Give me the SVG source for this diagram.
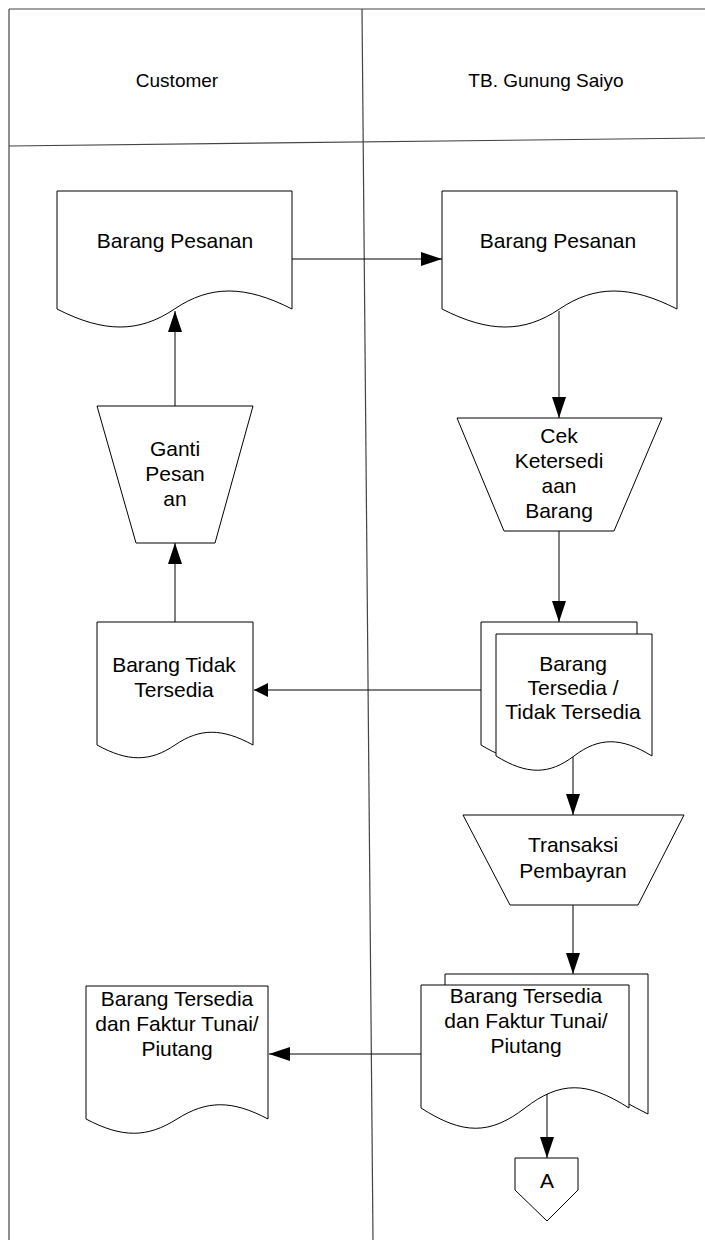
<svg xmlns="http://www.w3.org/2000/svg" width="705" height="1240" viewBox="0 0 705 1240">
  <style>
    .frame { fill: none; stroke: #444; stroke-width: 1.2; }
    .shape { fill: #fff; stroke: #000; stroke-width: 1; }
    .conn { fill: none; stroke: #000; stroke-width: 1; }
    text { font-family: "Liberation Sans", Arial, sans-serif; font-size: 21px; fill: #000; text-anchor: middle; }
    .head { font-size: 19px; }
  </style>
  <defs>
    <marker id="arrow" markerUnits="userSpaceOnUse" markerWidth="22" markerHeight="14" refX="21" refY="7" orient="auto">
      <path d="M0,0 L21,7 L0,14 Z" fill="#000"/>
    </marker>
    <marker id="arrowShort" markerUnits="userSpaceOnUse" markerWidth="15" markerHeight="14" refX="14" refY="7" orient="auto">
      <path d="M0,0 L14,7 L0,14 Z" fill="#000"/>
    </marker>
  </defs>

  <!-- swimlane frame -->
  <g id="lanes">
    <line class="frame" x1="9" y1="9" x2="705" y2="9"/>
    <line class="frame" x1="9" y1="9" x2="9" y2="1240"/>
    <line class="frame" x1="362" y1="9" x2="373" y2="1240"/>
    <line class="frame" x1="9" y1="146" x2="705" y2="138"/>
    <text class="head" x="177" y="87">Customer</text>
    <text class="head" x="546" y="87">TB. Gunung Saiyo</text>
  </g>

  <!-- connectors -->
  <g id="connectors">
    <line class="conn" x1="292" y1="259" x2="442" y2="259" marker-end="url(#arrow)"/>
    <line class="conn" x1="559" y1="311" x2="559" y2="418" marker-end="url(#arrow)"/>
    <line class="conn" x1="559" y1="531" x2="559" y2="622" marker-end="url(#arrow)"/>
    <line class="conn" x1="481" y1="690" x2="254" y2="690" marker-end="url(#arrowShort)"/>
    <line class="conn" x1="175" y1="622" x2="175" y2="543" marker-end="url(#arrow)"/>
    <line class="conn" x1="175" y1="406" x2="175" y2="311" marker-end="url(#arrow)"/>
    <line class="conn" x1="573" y1="757" x2="573" y2="815" marker-end="url(#arrow)"/>
    <line class="conn" x1="573" y1="905" x2="573" y2="974" marker-end="url(#arrow)"/>
    <line class="conn" x1="421" y1="1054" x2="269" y2="1054" marker-end="url(#arrow)"/>
    <line class="conn" x1="547" y1="1094" x2="547" y2="1158" marker-end="url(#arrow)"/>
  </g>

  <!-- customer: order document -->
  <g id="cust-barang-pesanan">
    <path class="shape" d="M57,191 H292 V309 C245,285 210,285 174.5,309 C139,333 104,333 57,309 Z"/>
    <text x="175" y="248">Barang Pesanan</text>
  </g>

  <!-- store: order document -->
  <g id="toko-barang-pesanan">
    <path class="shape" d="M442,191 H677 V309 C630,285 595,285 559.5,309 C524,333 489,333 442,309 Z"/>
    <text x="558" y="248">Barang Pesanan</text>
  </g>

  <!-- manual operation: change order -->
  <g id="ganti-pesanan">
    <path class="shape" d="M97,406 H253 L215,543 H136 Z"/>
    <text x="175" y="456">Ganti</text>
    <text x="175" y="481">Pesan</text>
    <text x="175" y="506">an</text>
  </g>

  <!-- manual operation: stock check -->
  <g id="cek-ketersediaan">
    <path class="shape" d="M457,418 H662 L614,531 H504 Z"/>
    <text x="559" y="443">Cek</text>
    <text x="559" y="468">Ketersedi</text>
    <text x="559" y="493">aan</text>
    <text x="559" y="518">Barang</text>
  </g>

  <!-- customer: not-available document -->
  <g id="barang-tidak-tersedia">
    <path class="shape" d="M97,622 H253 V745 C222,728 200,728 175,745 C150,762 128,762 97,745 Z"/>
    <text x="174" y="672">Barang Tidak</text>
    <text x="174" y="697">Tersedia</text>
  </g>

  <!-- store: availability documents -->
  <g id="barang-tersedia-tidak">
    <path class="shape" d="M481,622 H637 V745 C606,726 584,726 559,745 C534,764 512,764 481,745 Z"/>
    <path class="shape" d="M496,634 H652 V756 C621,737 599,737 574,756 C549,775 527,775 496,756 Z"/>
    <text x="573" y="671">Barang</text>
    <text x="573" y="695">Tersedia /</text>
    <text x="573" y="719">Tidak Tersedia</text>
  </g>

  <!-- manual operation: payment -->
  <g id="transaksi-pembayaran">
    <path class="shape" d="M463,815 H684 L638,905 H510 Z"/>
    <text x="573" y="852">Transaksi</text>
    <text x="573" y="878">Pembayran</text>
  </g>

  <!-- store: goods and invoice documents (back sheet only shows at top and right) -->
  <g id="toko-faktur">
    <path class="shape" d="M445,974 H648 V1114 C640,1110 632,1106 622,1100 L600,1084 L445,1084 Z"/>
    <path class="shape" d="M421,985 H629 V1108 C587,1081 560,1081 525,1108 C490,1135 463,1135 421,1108 Z"/>
    <text x="526" y="1003">Barang Tersedia</text>
    <text x="526" y="1028">dan Faktur Tunai/</text>
    <text x="526" y="1053">Piutang</text>
  </g>

  <!-- customer: goods and invoice document -->
  <g id="cust-faktur">
    <path class="shape" d="M86,986 H268 V1119 C232,1100 207,1100 177,1119 C147,1138 122,1138 86,1119 Z"/>
    <text x="177" y="1006">Barang Tersedia</text>
    <text x="177" y="1031">dan Faktur Tunai/</text>
    <text x="177" y="1056">Piutang</text>
  </g>

  <!-- off-page connector -->
  <g id="offpage-a">
    <path class="shape" d="M515,1158 H578 V1190 L547,1221 L515,1190 Z"/>
    <text x="547" y="1188">A</text>
  </g>
</svg>
